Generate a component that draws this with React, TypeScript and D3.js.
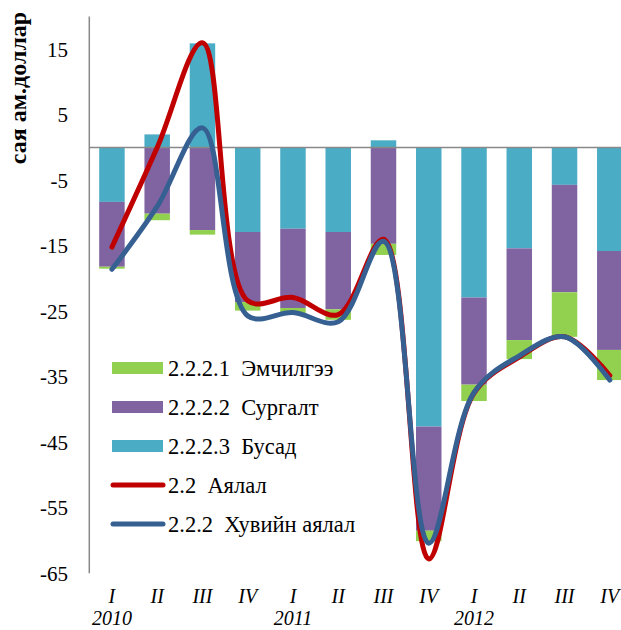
import React from "react";
import * as d3 from "d3";

const quarters = ["I", "II", "III", "IV", "I", "II", "III", "IV", "I", "II", "III", "IV"];
const years = [
  { label: "2010", index: 0 },
  { label: "2011", index: 4 },
  { label: "2012", index: 8 },
];

const emchilgee = [-0.3, -1.0, -0.7, -1.3, -1.0, -1.6, -1.7, -1.6, -2.5, -2.9, -6.8, -4.6];
const surgalt = [-9.9, -10.1, -12.6, -10.7, -12.1, -11.8, -14.7, -15.9, -13.3, -14.0, -16.4, -15.1];
const busad = [-8.3, 2.0, 15.9, -12.9, -12.4, -12.9, 1.1, -42.6, -22.9, -15.4, -5.7, -15.8];

const ayalal = [-15.2, 0.0, 16.0, -23.4, -22.9, -25.5, -14.0, -62.8, -37.5, -32.0, -28.9, -34.8];
const khuviinAyalal = [-18.6, -9.0, 3.0, -25.7, -25.2, -26.6, -14.3, -60.4, -37.4, -31.8, -28.9, -35.5];

const yTicks = [15, 5, -5, -15, -25, -35, -45, -55, -65];

const barSeries = [
  { key: "busad", name: "2.2.2.3  Бусад", color: "#4BACC6", values: busad },
  { key: "surgalt", name: "2.2.2.2  Сургалт", color: "#8064A2", values: surgalt },
  { key: "emchilgee", name: "2.2.2.1  Эмчилгээ", color: "#92D050", values: emchilgee },
];
const lineSeries = [
  { name: "2.2  Аялал", color: "#C00000", values: ayalal },
  { name: "2.2.2  Хувийн аялал", color: "#376092", values: khuviinAyalal },
];

const legendItems = [
  { name: "2.2.2.1  Эмчилгээ", color: "#92D050", type: "bar" },
  { name: "2.2.2.2  Сургалт", color: "#8064A2", type: "bar" },
  { name: "2.2.2.3  Бусад", color: "#4BACC6", type: "bar" },
  { name: "2.2  Аялал", color: "#C00000", type: "line" },
  { name: "2.2.2  Хувийн аялал", color: "#376092", type: "line" },
];

export default function App() {
  const W = 621;
  const H = 630;
  const x0 = 89.3;
  const step = 45.26;
  const font = "Liberation Serif, DejaVu Serif, serif";
  const fs = 21;
  const ts: React.CSSProperties = { fontFamily: font, whiteSpace: "pre" };

  const idx = quarters.map((_, i) => i);
  const x = d3
    .scaleBand<number>()
    .domain(idx)
    .range([x0, x0 + step * 12])
    .paddingInner(0.437)
    .paddingOuter(0.2185);
  const y = d3.scaleLinear().domain([-65, 20]).range([573.3, 16.5]);

  const table = idx.map((i) => {
    const row: any = { i };
    barSeries.forEach((s) => (row[s.key] = s.values[i]));
    return row;
  });
  const stack = d3
    .stack<any>()
    .keys(barSeries.map((s) => s.key))
    .offset(d3.stackOffsetDiverging);
  const stacked = stack(table);

  const cx = (i: number) => (x(i) as number) + x.bandwidth() / 2;
  const line = d3
    .line<number>()
    .x((_, i) => cx(i))
    .y((v) => y(v))
    .curve(d3.curveCatmullRom.alpha(0.5));

  return (
    <svg
      width={W}
      height={H}
      style={{ position: "absolute", left: 0, top: 0, background: "#fff" }}
    >
      {stacked.map((layer, li) => (
        <g key={layer.key} fill={barSeries[li].color}>
          {layer.map((d, i) => (
            <rect
              key={i}
              x={x(i)}
              width={x.bandwidth()}
              y={y(Math.max(d[0], d[1]))}
              height={Math.abs(y(d[0]) - y(d[1]))}
            />
          ))}
        </g>
      ))}
      <line x1={x0} x2={W} y1={y(0)} y2={y(0)} stroke="#898989" strokeWidth={1.5} />
      <line x1={x0} x2={x0} y1={y(20)} y2={y(-65)} stroke="#898989" strokeWidth={1.5} />
      {lineSeries.map((s) => (
        <path
          key={s.name}
          d={line(s.values) || ""}
          fill="none"
          stroke={s.color}
          strokeWidth={5}
          strokeLinecap="round"
          strokeLinejoin="round"
        />
      ))}
      {yTicks.map((t) => (
        <text key={t} x={68} y={y(t)} dy="0.35em" textAnchor="end" fontSize={fs} fill="#000" style={ts}>
          {t}
        </text>
      ))}
      <text
        transform={`translate(26,88) rotate(-90)`}
        textAnchor="middle"
        fontSize={24}
        fontWeight="bold"
        fill="#000"
        style={ts}
      >
        сая ам.доллар
      </text>
      {quarters.map((q, i) => (
        <text key={i} x={cx(i)} y={603} textAnchor="middle" fontSize={20} fontStyle="italic" fill="#000" style={ts}>
          {q}
        </text>
      ))}
      {years.map((yy) => (
        <text key={yy.label} x={cx(yy.index)} y={625} textAnchor="middle" fontSize={20} fontStyle="italic" fill="#000" style={ts}>
          {yy.label}
        </text>
      ))}
      {legendItems.map((it, k) => {
        const ly = 368 + k * 39;
        return (
          <g key={it.name}>
            {it.type === "bar" ? (
              <rect x={112} y={ly - 6} width={51} height={12} fill={it.color} />
            ) : (
              <line x1={113} x2={163} y1={ly} y2={ly} stroke={it.color} strokeWidth={5} strokeLinecap="round" />
            )}
            <text x={168} y={ly} dy="0.35em" fontSize={22.5} fill="#000" style={ts}>
              {it.name}
            </text>
          </g>
        );
      })}
    </svg>
  );
}
